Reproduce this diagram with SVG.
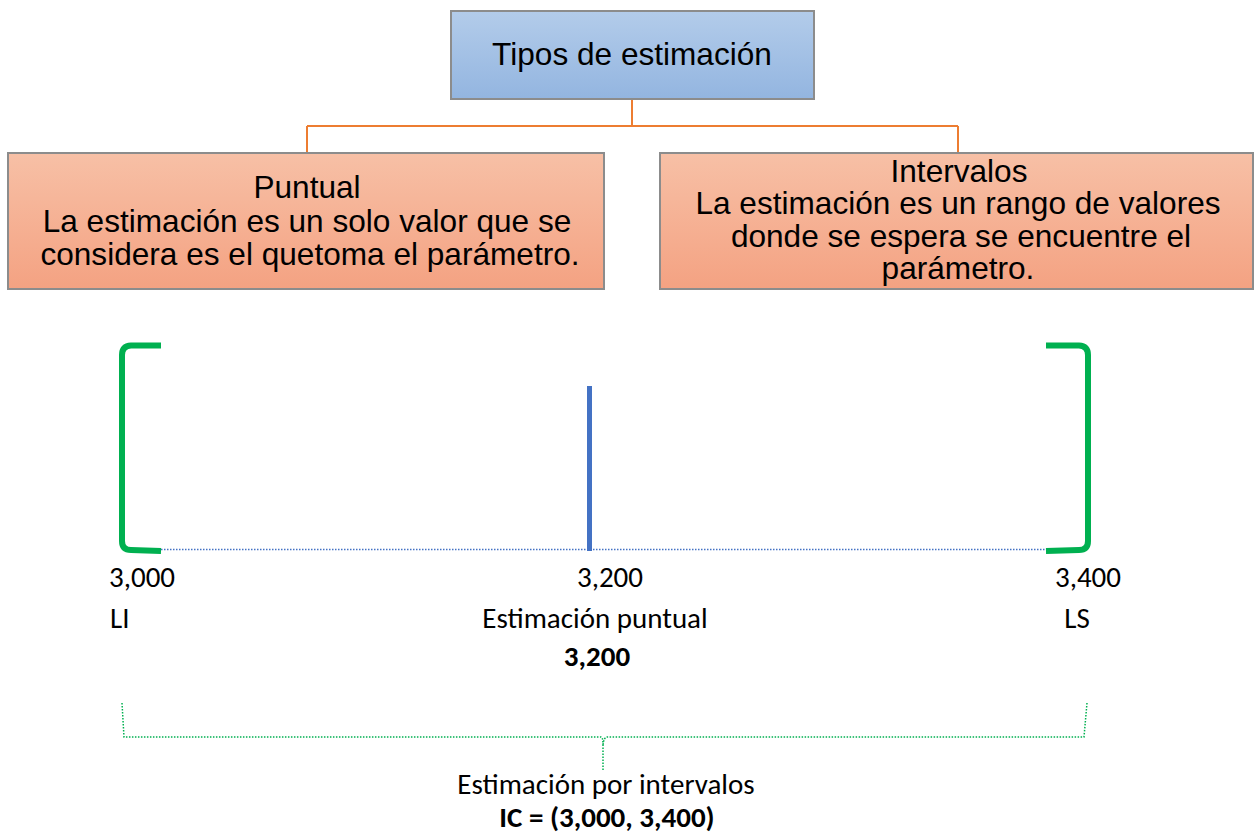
<svg xmlns="http://www.w3.org/2000/svg" width="1254" height="834" viewBox="0 0 1254 834">
<defs>
<linearGradient id="gBlue" x1="0" y1="0" x2="0" y2="1">
<stop offset="0" stop-color="#B3CCEA"/>
<stop offset="1" stop-color="#93B5E0"/>
</linearGradient>
<linearGradient id="gOrange" x1="0" y1="0" x2="0" y2="1">
<stop offset="0" stop-color="#F7C0A6"/>
<stop offset="1" stop-color="#F4A282"/>
</linearGradient>
</defs>
<style>
.box{stroke:#8C8C8C;stroke-width:2}
.t{font-family:"Liberation Sans",Arial,sans-serif;font-size:31.6px;fill:#000;text-anchor:middle}
.c{font-family:Carlito,Lato,"Open Sans",sans-serif;font-size:29px;fill:#000}
.b{font-weight:bold}
.conn{stroke:#ED7D31;stroke-width:2;fill:none}
.br{stroke:#00B050;stroke-width:6;fill:none;stroke-linecap:butt}
.brace{stroke:#00B050;stroke-width:1.5;fill:none;stroke-dasharray:1.5 1.5}
</style>
<g id="connectors">
<path class="conn" d="M632 99 V126 M307 126 H958 M307 126 V153 M958 126 V153"/>
</g>
<g id="node-tipos">
<rect class="box" x="451" y="11" width="363" height="88" fill="url(#gBlue)"/>
<text class="t" x="632" y="65">Tipos de estimación</text>
</g>
<g id="node-puntual">
<rect class="box" x="8" y="153" width="596" height="136" fill="url(#gOrange)"/>
<text class="t" x="307" y="198">Puntual</text>
<text class="t" x="307" y="232">La estimación es un solo valor que se</text>
<text class="t" x="310" y="265">considera es el quetoma el parámetro.</text>
</g>
<g id="node-intervalos">
<rect class="box" x="660" y="153" width="593" height="136" fill="url(#gOrange)"/>
<text class="t" x="959" y="182">Intervalos</text>
<text class="t" x="958" y="214">La estimación es un rango de valores</text>
<text class="t" x="961" y="247">donde se espera se encuentre el</text>
<text class="t" x="958" y="279">parámetro.</text>
</g>
<g id="interval">
<line x1="161" y1="549.5" x2="1046" y2="549.5" stroke="#4472C4" stroke-width="1.5" stroke-dasharray="1.5 1.5"/>
<path class="br" d="M161 345.5 H131 Q122 346 122 355 V541 Q122 550 131 550 L161 551"/>
<path class="br" d="M1046 345.5 H1079 Q1088 346 1088 355 V541 Q1088 550 1079 550 L1046 551"/>
<line x1="589.5" y1="386" x2="589.5" y2="551" stroke="#4472C4" stroke-width="5"/>
</g>
<g id="labels">
<text class="c" x="109" y="587">3,000</text>
<text class="c" x="610" y="587" text-anchor="middle">3,200</text>
<text class="c" x="1088" y="587" text-anchor="middle">3,400</text>
<text class="c" x="110" y="628">LI</text>
<text class="c" x="595" y="628" text-anchor="middle">Estimación puntual</text>
<text class="c b" x="597" y="666" text-anchor="middle">3,200</text>
<text class="c" x="1077" y="628" text-anchor="middle">LS</text>
</g>
<g id="brace">
<path class="brace" d="M122 703 L124 737 H601 Q603 737 603 745 L603 770 M603 745 Q604 737 607 737 H1084 L1087 703"/>
<text class="c" x="606" y="794" text-anchor="middle">Estimación por intervalos</text>
<text class="c b" x="607" y="827" text-anchor="middle" font-size="28px">IC = (3,000, 3,400)</text>
</g>
</svg>
